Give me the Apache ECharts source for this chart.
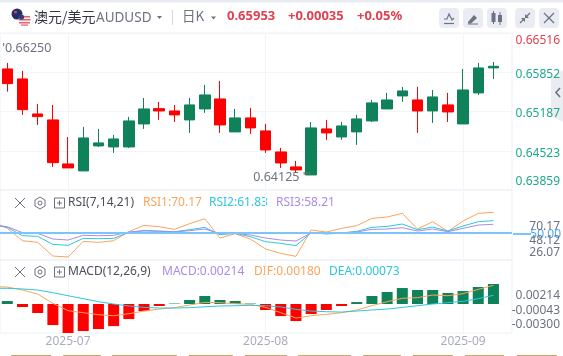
<!DOCTYPE html>
<html>
<head>
<meta charset="utf-8">
<style>
  html, body { margin: 0; padding: 0; background: #fff; }
  #chart { width: 563px; height: 356px; }
</style>
<script src="https://cdn.jsdelivr.net/npm/echarts@6/dist/echarts.min.js"></script>
</head>
<body>
<div id="chart"></div>
<script>
// candles
const opens  = [0.65908,0.65739,0.65146,0.65045,0.64300,0.64182,0.64605,0.64588,0.64588,0.64977,0.65236,0.65197,0.65045,0.65231,0.65400,0.64842,0.65079,0.64859,0.64503,0.64250,0.64114,0.64893,0.64757,0.64842,0.65028,0.65231,0.65451,0.65383,0.65197,0.65299,0.64977,0.65502,0.65925]
const closes = [0.65659,0.65219,0.65101,0.64322,0.64233,0.64740,0.64656,0.64723,0.65028,0.65231,0.65197,0.65130,0.65299,0.65468,0.64960,0.65079,0.64910,0.64537,0.64317,0.64199,0.64910,0.64825,0.64943,0.65062,0.65333,0.65383,0.65536,0.65197,0.65434,0.65180,0.65552,0.65925,0.65953]
const lows   = [0.65524,0.65130,0.64960,0.64250,0.64233,0.64182,0.64588,0.64487,0.64571,0.64893,0.65045,0.65011,0.64825,0.65163,0.64825,0.64842,0.64808,0.64487,0.64233,0.64148,0.64114,0.64707,0.64707,0.64622,0.65011,0.65231,0.65350,0.64825,0.64994,0.65011,0.64977,0.65468,0.65739]
const highs  = [0.66009,0.65874,0.65316,0.65299,0.64757,0.64926,0.64893,0.64791,0.65096,0.65417,0.65350,0.65299,0.65417,0.65637,0.65705,0.65231,0.65248,0.64977,0.64571,0.64351,0.65011,0.65045,0.65011,0.65130,0.65383,0.65502,0.65603,0.65603,0.65552,0.65502,0.65908,0.66009,0.66026]

// indicator lines start one bar before the first visible candle
const rsi1 = [61.1,54.14,41.80,40.14,26.47,25.47,41.14,40.14,41.80,50.80,57.14,55.80,53.14,58.80,63.80,44.47,48.80,43.47,33.47,29.14,26.14,52.47,50.47,54.14,56.80,64.14,65.47,69.14,53.47,60.80,51.14,61.47,69.14,70.17]
const rsi2 = [57.5,55.14,46.80,46.14,38.14,37.14,44.14,43.80,44.14,50.14,52.14,51.47,50.80,52.80,55.14,47.80,49.14,45.80,40.80,39.14,36.80,49.80,48.47,49.47,51.14,55.14,56.14,58.47,52.80,55.47,51.47,56.47,60.80,61.83]
const rsi3 = [57.5,55.80,49.80,49.14,43.47,42.47,47.14,46.80,47.14,50.47,51.47,51.14,50.47,51.80,53.47,48.80,49.14,47.47,44.47,42.47,41.47,49.47,49.14,49.80,50.47,53.14,53.47,54.80,51.47,53.47,50.80,54.14,57.47,58.21]

const macdBars = [0.00032,-0.00032,-0.00096,-0.00225,-0.00311,-0.00289,-0.00268,-0.00236,-0.00161,-0.00075,-0.00021,0.00005,0.00043,0.00086,0.00043,0.00032,0.00005,-0.00064,-0.00129,-0.00182,-0.00107,-0.00064,-0.00021,0.00021,0.00086,0.00129,0.00171,0.00150,0.00150,0.00118,0.00139,0.00182,0.00214]
const dif = [0.00186,0.00182,0.00150,0.00107,0.00007,-0.00071,-0.00093,-0.00114,-0.00125,-0.00104,-0.00075,-0.00054,-0.00039,-0.00011,0.00018,0.00014,0.00004,-0.00004,-0.00036,-0.00093,-0.00150,-0.00125,-0.00111,-0.00093,-0.00064,-0.00018,0.00025,0.00061,0.00068,0.00096,0.00089,0.00111,0.00157,0.00200]
const dea = [0.00168,0.00168,0.00161,0.00150,0.00121,0.00089,0.00057,0.00025,0,-0.00021,-0.00036,-0.00043,-0.00043,-0.00039,-0.00029,-0.00021,-0.00018,-0.00014,-0.00018,-0.00032,-0.00057,-0.00075,-0.00082,-0.00086,-0.00075,-0.00064,-0.00054,-0.00036,-0.00018,0,0.00014,0.00029,0.00057,0.00093]

// ticks
const monthAt = [4, 17, 30]
const monthLabels = ['2025-07', '2025-08', '2025-09']
const priceTicks = [0.63859, 0.64523, 0.65187, 0.65852, 0.66516]
const rsiTickAt = [29.5, 41.5, 56]          // where the labels sit in the pane
const rsiTickLabels = ['26.07', '48.12', '70.17']
const macdTickAt = [-0.00225, -0.00075, 0.00088]
const macdTickLabels = ['-0.00300', '-0.00043', '0.00214']

const RED = '#ff0000', GREEN = '#0f8259'
const ORANGE = '#f9a45c', CYAN = '#2ec6e0', PURPLE = '#a98ce6', GRID = '#f3f4f9'
const LABEL_GRAY = '#6e7280', FONT = '"Noto Sans", sans-serif', CJK = '"Noto Sans CJK SC", sans-serif'

const xy = arr => arr.map((v, i) => [i - 1, v])
const candleData = opens.map((o, i) => [i, o, closes[i], lows[i], highs[i]])
const barData = macdBars.map((v, i) => ({
  value: [i, v],
  itemStyle: { color: v >= 0 ? GREEN : RED }
}))

function xAxisFor(gridIndex, showLabels) {
  return {
    type: 'value', gridIndex, min: -0.48, max: 33.22,
    axisLine: { show: false },
    axisTick: { show: false, customValues: monthAt },
    splitLine: { show: true, lineStyle: { color: GRID } },
    axisLabel: {
      show: showLabels, customValues: monthAt, color: '#a9acba', fontSize: 12, fontFamily: FONT, margin: 3,
      formatter: v => monthLabels[monthAt.indexOf(v)] || ''
    }
  }
}

function yAxisFor(gridIndex, min, max, ticks, labelFn) {
  return {
    type: 'value', gridIndex, position: 'right', min, max,
    axisLine: { show: false },
    axisTick: { show: false, customValues: ticks },
    splitLine: { show: gridIndex === 0, lineStyle: { color: GRID } },
    axisLabel: {
      customValues: ticks, align: 'right', margin: 48, fontSize: 12, fontFamily: FONT,
      color: LABEL_GRAY, formatter: labelFn
    }
  }
}

// price labels sit a little under their ticks, the outer two are pulled inside the pane
const priceAxis = yAxisFor(0, 0.63859, 0.66516, priceTicks, v => {
  const text = v.toFixed(5)
  if (v > 0.66) return '{top|' + text + '}'
  if (v < 0.64) return '{end|' + text + '}'
  return '{mid|' + text + '}'
})
Object.assign(priceAxis.axisLabel, {
  verticalAlign: 'top', verticalAlignMinLabel: 'bottom', verticalAlignMaxLabel: 'top',
  rich: {
    top: { color: '#e0404f', lineHeight: 16, fontSize: 12, fontFamily: FONT },
    mid: { color: '#1fa98a', lineHeight: 5, fontSize: 12, fontFamily: FONT },
    end: { color: '#1fa98a', lineHeight: 16, fontSize: 12, fontFamily: FONT }
  }
})

function indicatorLine(name, data, color, xi) {
  return {
    name, type: 'line', xAxisIndex: xi, yAxisIndex: xi, data: xy(data),
    symbol: 'none', lineStyle: { color, width: 1 }, silent: true
  }
}

// ---- header and pane captions ----
function txt(x, y, text, fill, size, opts) {
  return {
    type: 'text', x, y, silent: true,
    style: Object.assign({ text, fill, fontSize: size, fontFamily: FONT, verticalAlign: 'middle' }, opts || {})
  }
}
function seg(x1, y1, x2, y2, stroke, w) {
  return { type: 'line', silent: true, shape: { x1, y1, x2, y2 }, style: { stroke, lineWidth: w || 1 } }
}
function box(x, y, w, h, fill, r) {
  return { type: 'rect', silent: true, shape: { x, y, width: w, height: h, r: r || 0 }, style: { fill } }
}
function poly(points, style, closed) {
  return { type: closed ? 'polygon' : 'polyline', silent: true, shape: { points }, style }
}

function paneIcons(y) {
  const c = '#6e7280'
  return [
    seg(15, y - 5, 25, y + 5, c), seg(25, y - 5, 15, y + 5, c),
    poly([[40, y - 6], [45, y - 3], [45, y + 3], [40, y + 6], [35, y + 3], [35, y - 3]], { fill: 'none', stroke: c }, true),
    { type: 'circle', silent: true, shape: { cx: 40, cy: y, r: 2 }, style: { fill: 'none', stroke: c } },
    { type: 'rect', silent: true, shape: { x: 54.5, y: y - 5, width: 10, height: 10 }, style: { fill: 'none', stroke: c } },
    seg(57, y, 62, y, c), seg(59.5, y - 2.5, 59.5, y + 2.5, c)
  ]
}

const icon = '#6e7380'
const headerParts = [
  box(0, 0, 563, 2.5, '#e8ebf1'),
  // flags
  { type: 'circle', silent: true, shape: { cx: 17, cy: 14, r: 5.5 }, style: { fill: '#1f2f6b' } },
  { type: 'circle', silent: true, shape: { cx: 15.5, cy: 12, r: 1.6 }, style: { fill: '#d9394b' } },
  { type: 'circle', silent: true, shape: { cx: 24.5, cy: 20, r: 6 }, style: { fill: '#f3f3f6' } },
  box(19, 16, 11, 1.5, '#e8606c'), box(18.5, 19, 12, 1.5, '#e8606c'), box(19, 22, 11, 1.5, '#e8606c'), box(21, 24.5, 7, 1.2, '#e8606c'),
  { type: 'circle', silent: true, shape: { cx: 21.5, cy: 17, r: 2.6 }, style: { fill: '#33407a' } },
  txt(34, 17, '澳元/美元', '#333640', 14, { fontFamily: CJK }),
  txt(96, 18, 'AUDUSD', '#6e7280', 13.5),
  poly([[157, 16], [162, 16], [159.5, 19]], { fill: '#6e7280' }, true),
  seg(172.5, 10, 172.5, 25, '#d5d8e0'),
  txt(182, 16, '日K', '#6e7280', 13.5, { fontFamily: CJK }),
  poly([[211, 16.5], [216, 16.5], [213.5, 19.5]], { fill: '#6e7280' }, true),
  txt(227, 16.5, '0.65953', '#e0404f', 13, { fontWeight: 'bold' }),
  txt(288, 16.5, '+0.00035', '#e0404f', 13, { fontWeight: 'bold' }),
  txt(357, 16.5, '+0.05%', '#e0404f', 13, { fontWeight: 'bold' }),
  // toolbar
  box(439, 8, 20, 20, '#e9ecf3', 4), box(463, 8, 20, 20, '#e9ecf3', 4), box(487, 8, 20, 20, '#e9ecf3', 4),
  box(515, 8, 20, 20, '#e9ecf3', 4), box(539, 8, 20, 20, '#e9ecf3', 4),
  poly([[444, 19], [447, 19], [449, 14], [452, 20], [454, 18]], { fill: 'none', stroke: icon, lineWidth: 1.2 }),
  seg(444, 23.5, 454, 23.5, icon, 1.2),
  poly([[468, 22], [474, 15], [477, 18], [471, 23.5], [468, 23.5]], { fill: icon }, true),
  seg(468, 24, 478, 24, icon, 1),
  box(491.5, 13, 4, 9, icon), seg(493.5, 11, 493.5, 24, icon), box(498, 15, 4, 7, icon), seg(500, 12, 500, 25, icon),
  seg(520, 23, 524, 19, icon, 1.2), seg(526, 17, 530, 13, icon, 1.2),
  poly([[521, 18], [525, 18], [525, 22]], { fill: icon }, true), poly([[525, 14], [529, 18], [525, 18]], { fill: icon }, true),
  seg(544, 13, 554, 23, icon, 1.2), seg(554, 13, 544, 23, icon, 1.2),
  // collapse handle on the right edge
  poly([[551, 76], [563, 70], [563, 122], [551, 116]], { fill: '#ebecf2' }, true),
  poly([[560, 88], [556, 92.5], [560, 97]], { fill: 'none', stroke: '#6e7280', lineWidth: 1.6 }),
  // level line continues up to its label
  seg(513, 234, 531, 234, '#7cc4fb', 2),
  // RSI caption
  ...paneIcons(203),
  txt(68, 203, 'RSI(7,14,21)', '#4a4e5a', 12),
  txt(143, 203, 'RSI1:70.17', ORANGE, 12),
  txt(209, 203, 'RSI2:61.83', CYAN, 12),
  txt(276, 203, 'RSI3:58.21', PURPLE, 12),
  txt(561, 235, '50.00', '#49a9f5', 12, { align: 'right' }),
  // MACD caption
  ...paneIcons(272),
  txt(68, 272, 'MACD(12,26,9)', '#4a4e5a', 12),
  txt(162, 272, 'MACD:0.00214', PURPLE, 12),
  txt(254, 272, 'DIF:0.00180', ORANGE, 12),
  txt(329, 272, 'DEA:0.00073', CYAN, 12)
]
// tab edges cut off by the bottom of the page
const tabEdges = [[11, 51], [63, 101], [112, 177], [189, 233], [245, 287], [298, 351], [363, 401], [413, 453], [465, 504], [517, 557]]
tabEdges.forEach(t => headerParts.push(box(t[0], 355, t[1] - t[0], 1, '#d9a55c')))

const chart = echarts.init(document.getElementById('chart'), null, { renderer: 'canvas' })

chart.setOption({
  animation: false,
  backgroundColor: '#fff',
  grid: [
    { left: 0, right: 50, top: 33, height: 157, show: true, borderColor: '#eef0f5', borderWidth: 1 },
    { left: 0, right: 50, top: 190, height: 70, show: true, borderColor: '#eef0f5', borderWidth: 1 },
    { left: 0, right: 50, top: 260, height: 73, show: true, borderColor: '#eef0f5', borderWidth: 1 }
  ],
  xAxis: [xAxisFor(0, false), xAxisFor(1, false), xAxisFor(2, true)],
  yAxis: [
    priceAxis,
    yAxisFor(1, 22.5, 92.5, rsiTickAt, v => rsiTickLabels[rsiTickAt.indexOf(v)] || ''),
    yAxisFor(2, -0.0031, 0.00471, macdTickAt, v => macdTickLabels[macdTickAt.indexOf(v)] || '')
  ],
  series: [
    {
      name: '日K', type: 'candlestick', xAxisIndex: 0, yAxisIndex: 0, data: candleData,
      barWidth: 11,
      itemStyle: { color: GREEN, color0: RED, borderColor: GREEN, borderColor0: RED, borderWidth: 1 },
      markPoint: {
        symbol: 'circle', symbolSize: 0, silent: true,
        label: { show: true, color: LABEL_GRAY, fontSize: 12.5, fontFamily: FONT },
        data: [
          { coord: [0, 0.6625], label: { formatter: "'0.66250", position: 'right', distance: 0, offset: [-5, 0] } },
          { coord: [20, 0.64125], label: { formatter: "0.64125 '''", position: 'left', distance: 0, offset: [0, 3] } }
        ]
      }
    },
    Object.assign(indicatorLine('RSI1', rsi1, ORANGE, 1), {
      markLine: {
        silent: true, symbol: 'none', label: { show: false },
        lineStyle: { color: '#7cc4fb', width: 2, type: 'solid' },
        data: [{ yAxis: 50 }]
      }
    }),
    indicatorLine('RSI2', rsi2, CYAN, 1),
    indicatorLine('RSI3', rsi3, PURPLE, 1),
    { name: 'MACD', type: 'bar', xAxisIndex: 2, yAxisIndex: 2, data: barData, barWidth: 11 },
    indicatorLine('DIF', dif, ORANGE, 2),
    indicatorLine('DEA', dea, CYAN, 2)
  ],
  graphic: headerParts
})

window.addEventListener('resize', () => chart.resize())
</script>
</body>
</html>
